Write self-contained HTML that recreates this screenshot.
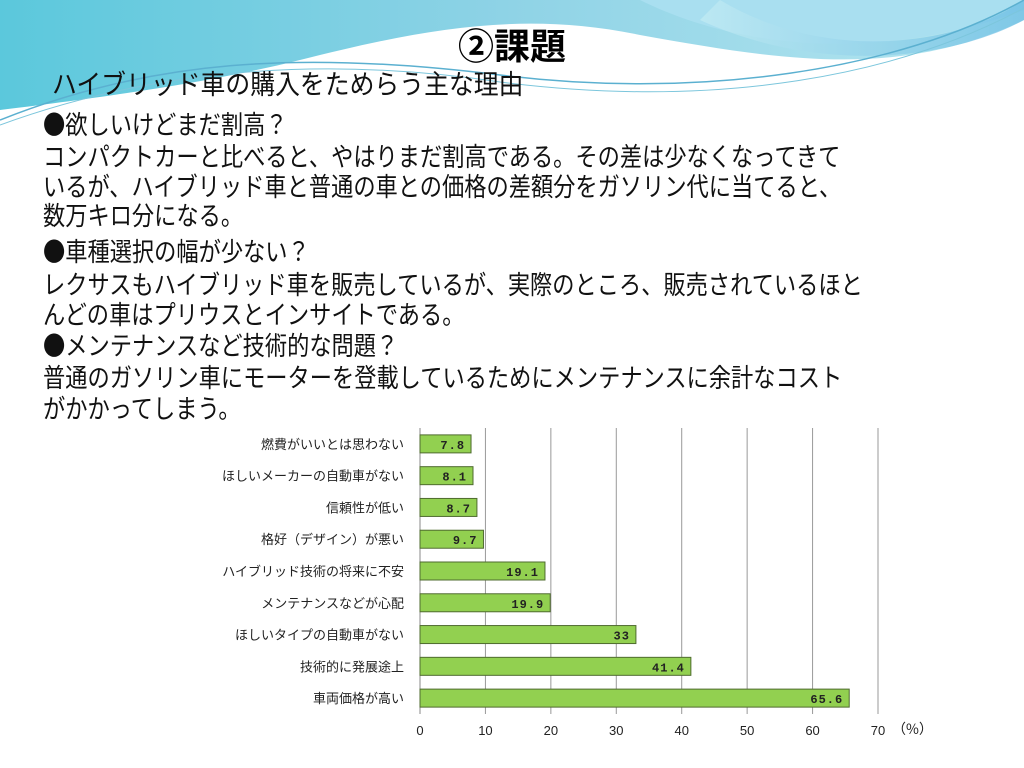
<!DOCTYPE html>
<html><head><meta charset="utf-8">
<style>
body{margin:0;width:1024px;height:768px;overflow:hidden;background:#fff;font-family:"Liberation Sans","Noto Sans CJK JP",sans-serif;position:relative}
.t{position:absolute;left:43px;font-size:26px;line-height:26px;color:#111;white-space:nowrap;transform:scaleX(0.855);transform-origin:left center;font-family:"Noto Sans CJK JP",sans-serif}
</style></head><body>
<svg width="1024" height="130" style="position:absolute;left:0;top:0">
<defs>
<linearGradient id="g1" x1="0" x2="1"><stop offset="0" stop-color="#5bc8dc"/><stop offset="0.5" stop-color="#8fd3e6"/><stop offset="1" stop-color="#b6e6f0"/></linearGradient>
<linearGradient id="g2" x1="0" x2="1"><stop offset="0" stop-color="#c8eef4"/><stop offset="1" stop-color="#5ab4e0"/></linearGradient>
</defs>
<path d="M0,0 H1024 V20 C900,80 780,60 640,35 C520,10 420,30 300,60 C200,85 80,100 0,110 Z" fill="url(#g1)"/>
<path d="M640,0 C720,40 860,70 1024,10 V0 Z" fill="#a9dff0"/>
<path d="M700,20 C820,75 950,60 1024,20 V0 H1024 C950,50 820,60 720,0 Z" fill="url(#g2)" opacity="0.6"/>
<path d="M0,120 C150,60 300,50 500,75 C700,100 900,70 1024,0" stroke="#5bb0d0" stroke-width="1.5" fill="none"/>
<path d="M0,125 C150,70 320,55 500,82 C720,110 900,75 1024,8" stroke="#7cc6dc" stroke-width="1" fill="none"/>
</svg>
<div style="position:absolute;left:0;width:1024px;top:18px;text-align:center;font-size:36px;font-weight:bold;font-family:'Noto Sans CJK JP',sans-serif">②課題</div>
<div class="t" style="left:52px;top:70px;font-size:27px;transform:scaleX(0.92)">ハイブリッド車の購入をためらう主な理由</div>
<div class="t" style="top:111px">●欲しいけどまだ割高？</div>
<div class="t" style="top:143px">コンパクトカーと比べると、やはりまだ割高である。その差は少なくなってきて</div>
<div class="t" style="top:173px">いるが、ハイブリッド車と普通の車との価格の差額分をガソリン代に当てると、</div>
<div class="t" style="top:202px">数万キロ分になる。</div>
<div class="t" style="top:238px">●車種選択の幅が少ない？</div>
<div class="t" style="top:271px">レクサスもハイブリッド車を販売しているが、実際のところ、販売されているほと</div>
<div class="t" style="top:301px">んどの車はプリウスとインサイトである。</div>
<div class="t" style="top:332px">●メンテナンスなど技術的な問題？</div>
<div class="t" style="top:364px">普通のガソリン車にモーターを登載しているためにメンテナンスに余計なコスト</div>
<div class="t" style="top:395px">がかかってしまう。</div>
<svg id="chart" width="1024" height="768" style="position:absolute;left:0;top:0"></svg>
<script>
const categories=["燃費がいいとは思わない","ほしいメーカーの自動車がない","信頼性が低い","格好（デザイン）が悪い","ハイブリッド技術の将来に不安","メンテナンスなどが心配","ほしいタイプの自動車がない","技術的に発展途上","車両価格が高い"];
const values=[7.8,8.1,8.7,9.7,19.1,19.9,33,41.4,65.6];
const labels=["7.8","8.1","8.7","9.7","19.1","19.9","33","41.4","65.6"];
const ticks=[0,10,20,30,40,50,60,70];
const svg=document.getElementById('chart');
const NS="http://www.w3.org/2000/svg";
const x0=420,x1=878,yTop=428,yBot=714,maxV=70;
const X=v=>x0+(x1-x0)*v/maxV;
const band=(yBot-yTop)/categories.length;
const Y=i=>yTop+band*i+band/2;
function mk(tag,a,txt){const e=document.createElementNS(NS,tag);for(const k in a)e.setAttribute(k,a[k]);if(txt!==undefined)e.textContent=txt;svg.appendChild(e);return e;}
ticks.forEach(t=>{
const l=mk('line',{x1:X(t),x2:X(t),y1:yTop,y2:yBot,stroke:t===0?'#888':'#999','stroke-width':1});


const tx=mk('text',{x:X(t),y:735,'text-anchor':'middle','font-size':13,fill:'#222','font-family':'Liberation Sans, sans-serif'},String(t));


});
const u=mk('text',{x:X(70)+14,y:734,'font-size':14,fill:'#222','font-family':'Noto Sans CJK JP, sans-serif'},'（%）');


categories.forEach((c,i)=>{
const r=mk('rect',{x:x0,y:Y(i)-9,width:X(values[i])-x0,height:18,fill:'#92d050',stroke:'#4f6b2f','stroke-width':1});


const v=mk('text',{x:X(values[i])-6,y:Y(i)+5,'text-anchor':'end','font-size':12,'font-weight':'bold',fill:'#222','letter-spacing':'1','font-family':'Liberation Mono, monospace'},labels[i]);


const c2=mk('text',{x:404,y:Y(i)+5,'text-anchor':'end','font-size':13,fill:'#222','font-family':'Noto Sans CJK JP, sans-serif'},c);


});
</script>
</body></html>
